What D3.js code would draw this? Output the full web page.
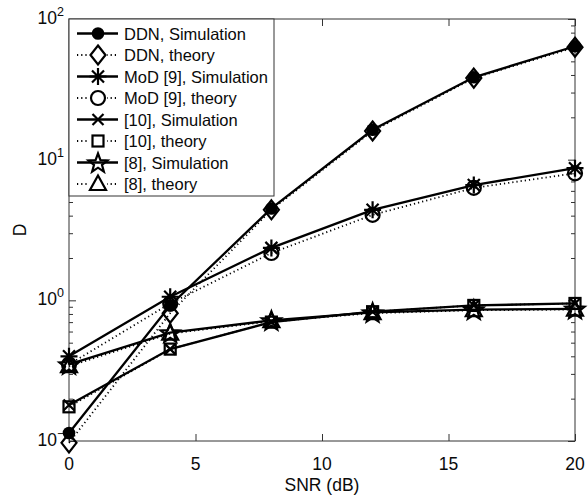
<!DOCTYPE html>
<html>
<head>
<meta charset="utf-8">
<script src="https://cdn.jsdelivr.net/npm/d3@7"></script>
<style>
  html, body { margin: 0; padding: 0; background: #fff; }
  svg { display: block; font-family: "Liberation Sans", Arial, Helvetica, sans-serif; }
</style>
</head>
<body>
<svg id="chart" width="588" height="495"></svg>
<script>
// SNR sweep (dB)
const snr = [0, 4, 8, 12, 16, 20];

// Detection metric D for each scheme
const ddnSim      = [0.114, 0.92, 4.5, 16.3, 38.5, 64];
const ddnTheory   = [0.097, 0.81, 4.4, 16.0, 38.0, 63];
const modSim      = [0.40, 1.06, 2.36, 4.4, 6.6, 8.7];
const modTheory   = [0.35, 0.95, 2.17, 4.05, 6.3, 8.0];
const ref10Sim    = [0.18, 0.45, 0.70, 0.83, 0.92, 0.95];
const ref10Theory = [0.175, 0.45, 0.70, 0.83, 0.92, 0.95];
const ref8Sim     = [0.35, 0.59, 0.72, 0.82, 0.86, 0.87];
const ref8Theory  = [0.34, 0.58, 0.71, 0.81, 0.85, 0.86];

const seriesNames = [
  "DDN, Simulation", "DDN, theory",
  "MoD [9], Simulation", "MoD [9], theory",
  "[10], Simulation", "[10], theory",
  "[8], Simulation", "[8], theory"
];
const seriesValues = [ddnSim, ddnTheory, modSim, modTheory, ref10Sim, ref10Theory, ref8Sim, ref8Theory];
const seriesMarkers = ["dot", "diamond", "asterisk", "circle", "cross", "square", "pentagram", "triangle"];
const seriesDotted  = [false, true, false, true, false, true, false, true];

const xTicks = [0, 5, 10, 15, 20];
const yDecades = [0.1, 1, 10, 100];
const yExponents = ["\u22121", "0", "1", "2"];

const svg = d3.select("#chart");
const plotL = 69, plotR = 575, plotT = 19, plotB = 441;

const x = d3.scaleLinear().domain([0, 20]).range([plotL, plotR]);
const y = d3.scaleLog().domain([0.1, 100]).range([plotB, plotT]);

const axisColor = "#333";
const textColor = "#0a0a0a";

// Minor and major ticks (inward, on all four sides)
const g = svg.append("g");
const minor = [];
for (let d = 0.1; d < 100; d *= 10) for (let k = 2; k <= 9; k++) minor.push(d * k);

g.append("g").attr("transform", `translate(${plotL},0)`)
  .call(d3.axisLeft(y).tickValues(minor).tickSize(-4).tickFormat(""))
  .call(s => s.select(".domain").remove());
g.append("g").attr("transform", `translate(${plotR},0)`)
  .call(d3.axisRight(y).tickValues(minor).tickSize(-4).tickFormat(""))
  .call(s => s.select(".domain").remove());
g.append("g").attr("transform", `translate(${plotL},0)`)
  .call(d3.axisLeft(y).tickValues(yDecades).tickSize(-7).tickFormat(""))
  .call(s => s.select(".domain").remove());
g.append("g").attr("transform", `translate(${plotR},0)`)
  .call(d3.axisRight(y).tickValues(yDecades).tickSize(-7).tickFormat(""))
  .call(s => s.select(".domain").remove());
g.append("g").attr("transform", `translate(0,${plotB})`)
  .call(d3.axisBottom(x).tickValues(xTicks).tickSize(-7).tickFormat(""))
  .call(s => s.select(".domain").remove());
g.append("g").attr("transform", `translate(0,${plotT})`)
  .call(d3.axisTop(x).tickValues(xTicks).tickSize(-7).tickFormat(""))
  .call(s => s.select(".domain").remove());
g.selectAll("line").attr("stroke", axisColor).attr("stroke-width", 1);

// Axes box
svg.append("rect")
  .attr("x", plotL).attr("y", plotT)
  .attr("width", plotR - plotL).attr("height", plotB - plotT)
  .attr("fill", "none").attr("stroke", axisColor).attr("stroke-width", 1);

// Tick labels
svg.append("g").selectAll("text").data(xTicks).join("text")
  .attr("x", d => x(d)).attr("y", 470)
  .attr("text-anchor", "middle").attr("font-size", 17.5).attr("fill", textColor)
  .text(d => d);

const yl = svg.append("g").selectAll("text").data(yDecades).join("text")
  .attr("y", d => y(d) + 5)
  .attr("text-anchor", "start").attr("font-size", 17.5).attr("fill", textColor);
yl.append("tspan").text("10");
yl.append("tspan").attr("dy", -8).attr("font-size", 12.5).text((d, i) => yExponents[i]);
// "10" ends at a fixed column, exponent follows it
yl.each(function() {
  const t = d3.select(this);
  const base = t.select("tspan").node().getComputedTextLength();
  t.attr("x", 57 - base);
});

// Axis titles
svg.append("text").attr("x", (plotL + plotR) / 2).attr("y", 491)
  .attr("text-anchor", "middle").attr("font-size", 17.5).attr("fill", textColor)
  .text("SNR (dB)");
svg.append("text").attr("transform", "translate(26,230) rotate(-90)")
  .attr("text-anchor", "middle").attr("font-size", 17.5).attr("fill", textColor)
  .text("D");

// Marker drawing
function drawMarker(sel, type) {
  const sw = 2.2;
  if (type === "dot") {
    sel.append("circle").attr("r", 6.3).attr("fill", "#000");
  } else if (type === "diamond") {
    sel.append("path").attr("d", "M0,-9.5L7.5,0L0,9.5L-7.5,0Z")
      .attr("fill", "none").attr("stroke", "#000").attr("stroke-width", sw);
  } else if (type === "asterisk") {
    sel.append("path").attr("d", "M-8.5,0L8.5,0M0,-8.5L0,8.5M-6,-6L6,6M-6,6L6,-6")
      .attr("stroke", "#000").attr("stroke-width", sw);
  } else if (type === "circle") {
    sel.append("circle").attr("r", 7)
      .attr("fill", "none").attr("stroke", "#000").attr("stroke-width", sw);
  } else if (type === "cross") {
    sel.append("path").attr("d", "M-5.5,-5.5L5.5,5.5M-5.5,5.5L5.5,-5.5")
      .attr("stroke", "#000").attr("stroke-width", sw);
  } else if (type === "square") {
    sel.append("rect").attr("x", -5.5).attr("y", -5.5).attr("width", 11).attr("height", 11)
      .attr("fill", "none").attr("stroke", "#000").attr("stroke-width", sw);
  } else if (type === "pentagram") {
    const pts = [];
    for (let i = 0; i < 10; i++) {
      const r = i % 2 === 0 ? 10 : 4.2;
      const a = -Math.PI / 2 + i * Math.PI / 5;
      pts.push([r * Math.cos(a), r * Math.sin(a) + 1]);
    }
    sel.append("path").attr("d", "M" + pts.map(p => p.join(",")).join("L") + "Z")
      .attr("fill", "none").attr("stroke", "#000").attr("stroke-width", sw);
  } else if (type === "triangle") {
    sel.append("path").attr("d", "M0,-8.5L8,6L-8,6Z")
      .attr("fill", "none").attr("stroke", "#000").attr("stroke-width", sw);
  }
}

const line = d3.line().x(d => x(d[0])).y(d => y(d[1]));

// Series: line then markers, in plotting order
seriesValues.forEach((vals, i) => {
  const pts = snr.map((s, j) => [s, vals[j]]);
  const p = svg.append("path").datum(pts).attr("d", line)
    .attr("fill", "none").attr("stroke", "#000");
  if (seriesDotted[i]) p.attr("stroke-width", 1.8).attr("stroke-dasharray", "1.2,3");
  else p.attr("stroke-width", 2.3);
  svg.append("g").selectAll("g").data(pts).join("g")
    .attr("transform", d => `translate(${x(d[0])},${y(d[1])})`)
    .each(function() { drawMarker(d3.select(this), seriesMarkers[i]); });
});

// Legend
const lg = svg.append("g");
lg.append("rect").attr("x", plotL).attr("y", plotT).attr("width", 205).attr("height", 177)
  .attr("fill", "#fff").attr("stroke", axisColor).attr("stroke-width", 1);
seriesNames.forEach((name, i) => {
  const ry = 33.5 + i * 21.5;
  const l = lg.append("line").attr("x1", 77).attr("x2", 118).attr("y1", ry).attr("y2", ry)
    .attr("stroke", "#000");
  if (seriesDotted[i]) l.attr("stroke-width", 1.8).attr("stroke-dasharray", "1.2,3");
  else l.attr("stroke-width", 2.3);
  const m = lg.append("g").attr("transform", `translate(98,${ry})`);
  if (seriesDotted[i]) m.append("rect").attr("x", -9).attr("y", -10).attr("width", 18).attr("height", 20).attr("fill", "#fff");
  drawMarker(m, seriesMarkers[i]);
  lg.append("text").attr("x", 124).attr("y", ry + 6)
    .attr("font-size", 16.5).attr("fill", textColor).text(name);
});
</script>
</body>
</html>
